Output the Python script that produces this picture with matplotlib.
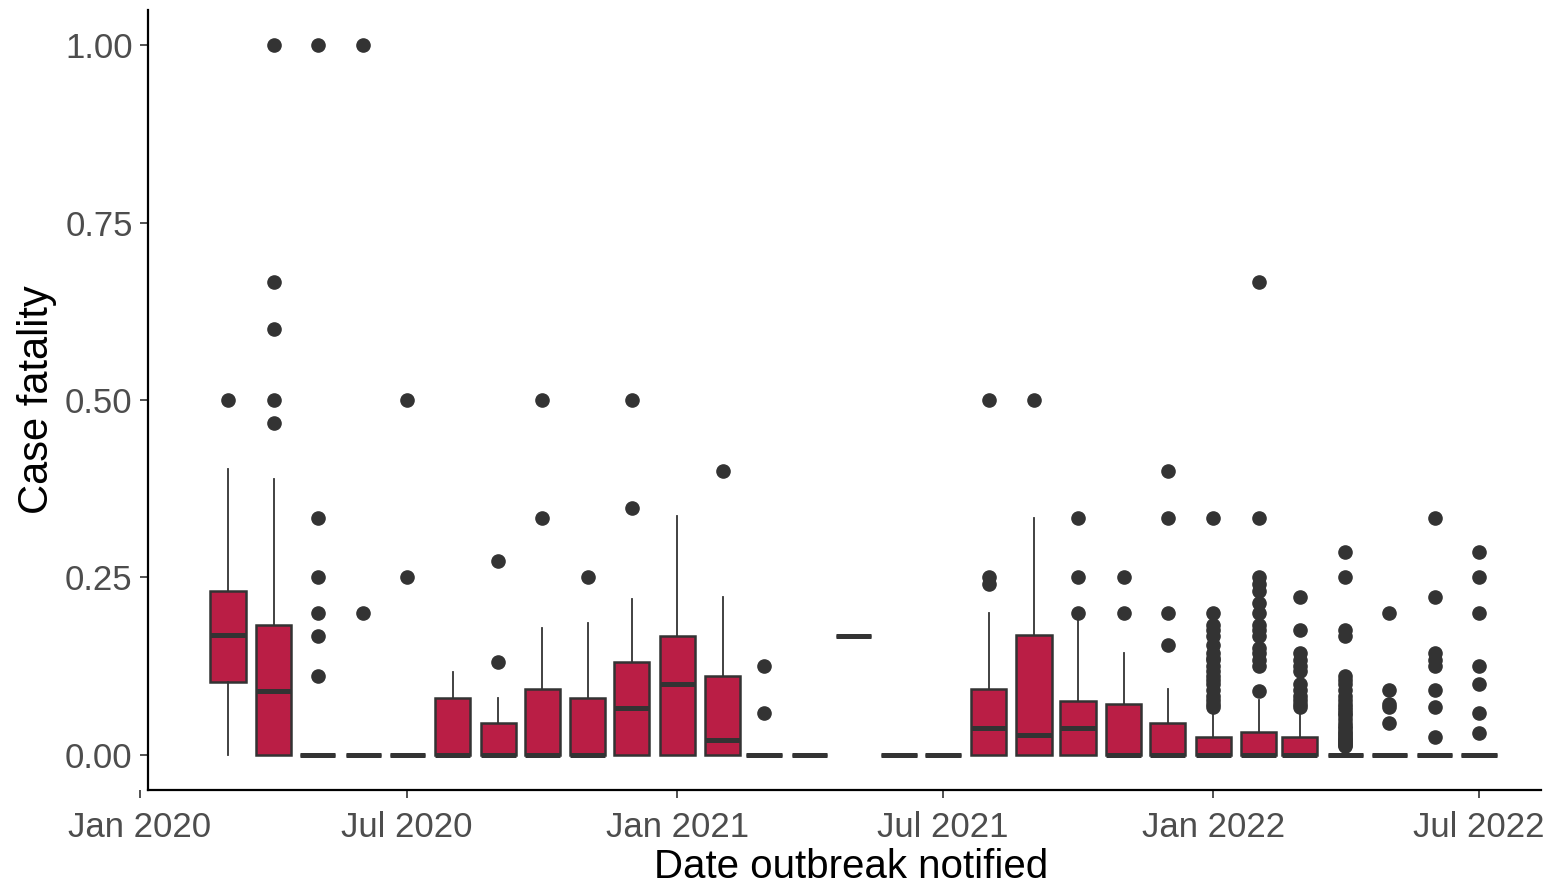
import matplotlib
matplotlib.use("Agg")
import matplotlib.pyplot as plt
import matplotlib.dates as mdates
import datetime as dt

plt.rcParams['font.family'] = ['Liberation Sans', 'DejaVu Sans']

# ---- data ----
months = ["2020-03", "2020-04", "2020-05", "2020-06", "2020-07", "2020-08",
          "2020-09", "2020-10", "2020-11", "2020-12", "2021-01", "2021-02",
          "2021-03", "2021-04", "2021-05", "2021-06", "2021-07", "2021-08",
          "2021-09", "2021-10", "2021-11", "2021-12", "2022-01", "2022-02",
          "2022-03", "2022-04", "2022-05", "2022-06", "2022-07"]

q1 = [0.103, 0, 0, 0, 0, 0, 0, 0, 0, 0, 0, 0, 0, 0, 0.167, 0, 0, 0,
      0, 0, 0, 0, 0, 0, 0, 0, 0, 0, 0]
med = [0.168, 0.089, 0, 0, 0, 0, 0, 0, 0, 0.066, 0.099, 0.02, 0, 0, 0.167, 0, 0,
       0.038, 0.027, 0.038, 0, 0, 0, 0, 0, 0, 0, 0, 0]
q3 = [0.23, 0.182, 0, 0, 0, 0.08, 0.045, 0.092, 0.08, 0.131, 0.167, 0.111, 0, 0,
      0.167, 0, 0, 0.092, 0.169, 0.075, 0.071, 0.045, 0.025, 0.032, 0.025,
      0, 0, 0, 0]
whislo = [0, 0, 0, 0, 0, 0, 0, 0, 0, 0, 0, 0, 0, 0, 0.167, 0, 0, 0,
          0, 0, 0, 0, 0, 0, 0, 0, 0, 0, 0]
whishi = [0.403, 0.388, 0, 0, 0, 0.116, 0.08, 0.179, 0.186, 0.219, 0.336, 0.222,
          0, 0, 0.167, 0, 0, 0.2, 0.333, 0.195, 0.143, 0.093, 0.059, 0.077, 0.06,
          0, 0, 0, 0]
outliers = [
    [0.5],
    [1.0, 0.667, 0.6, 0.5, 0.467],
    [1.0, 0.333, 0.25, 0.2, 0.167, 0.111],
    [1.0, 0.2],
    [0.5, 0.25],
    [],
    [0.273, 0.13],
    [0.5, 0.333],
    [0.25],
    [0.5, 0.348],
    [],
    [0.4],
    [0.125, 0.0588],
    [],
    [],
    [],
    [],
    [0.5, 0.25, 0.24],
    [0.5],
    [0.333, 0.25, 0.2],
    [0.25, 0.2],
    [0.4, 0.333, 0.2, 0.154],
    [0.333, 0.2, 0.182, 0.176, 0.167, 0.154, 0.143, 0.136, 0.133, 0.125, 0.118,
     0.111, 0.105, 0.1, 0.091, 0.083, 0.077, 0.071, 0.067],
    [0.667, 0.333, 0.25, 0.24, 0.231, 0.214, 0.2, 0.182, 0.176, 0.167, 0.15,
     0.143, 0.133, 0.125, 0.089],
    [0.222, 0.176, 0.143, 0.133, 0.125, 0.118, 0.1, 0.091, 0.083, 0.077, 0.071,
     0.067],
    [0.286, 0.25, 0.176, 0.167, 0.111, 0.105, 0.1, 0.091, 0.083, 0.077, 0.071,
     0.067, 0.0625, 0.0588, 0.0556, 0.05, 0.045, 0.04, 0.037, 0.033, 0.03, 0.027,
     0.025, 0.022, 0.02, 0.018, 0.016, 0.014, 0.012],
    [0.2, 0.091, 0.071, 0.067, 0.045],
    [0.333, 0.222, 0.143, 0.133, 0.125, 0.091, 0.067, 0.025],
    [0.286, 0.25, 0.2, 0.125, 0.1, 0.0588, 0.03],
]

y_ticks = [0.00, 0.25, 0.50, 0.75, 1.00]
y_ticklabels = ["0.00", "0.25", "0.50", "0.75", "1.00"]
x_tick_dates = ["2020-01-01", "2020-07-01", "2021-01-01", "2021-07-01",
                "2022-01-01", "2022-07-01"]

# ---- plot ----
fill = "#BA1E45"
dark = "#333333"

fig = plt.figure(figsize=(15.45, 8.93), dpi=100)
ax = fig.add_axes([138 / 1545, 103 / 893, 1403 / 1545, 780 / 893])

positions = [mdates.date2num(dt.datetime.strptime(m + "-01", "%Y-%m-%d")) for m in months]
stats = []
for i in range(len(months)):
    stats.append(dict(med=med[i], q1=q1[i], q3=q3[i], whislo=whislo[i],
                      whishi=whishi[i], fliers=outliers[i]))

ax.bxp(stats, positions=positions, widths=24, patch_artist=True,
       showcaps=False, manage_ticks=False,
       boxprops=dict(facecolor=fill, edgecolor=dark, linewidth=1.8),
       medianprops=dict(color=dark, linewidth=3.6, solid_capstyle='butt'),
       whiskerprops=dict(color=dark, linewidth=1.3),
       flierprops=dict(marker='o', markerfacecolor=dark, markeredgecolor=dark,
                       markersize=9.5, linestyle='none'))

x0 = mdates.date2num(dt.datetime(2020, 1, 1))
ax.set_xlim(x0 - 1.36, x0 + 954.3)
ax.set_ylim(-0.05, 1.05)

ax.spines['top'].set_visible(False)
ax.spines['right'].set_visible(False)
ax.spines['left'].set_position(('data', x0 + 5.45))
ax.spines['bottom'].set_bounds(x0 + 5.45, x0 + 954.3)
for s in ('left', 'bottom'):
    ax.spines[s].set_linewidth(1.6)
    ax.spines[s].set_color('black')

ax.set_yticks(y_ticks)
ax.set_yticklabels(y_ticklabels)
ax.set_xticks([mdates.date2num(dt.datetime.strptime(d, "%Y-%m-%d")) for d in x_tick_dates])
ax.xaxis.set_major_formatter(mdates.DateFormatter("%b %Y"))

ax.tick_params(axis='both', direction='out', length=6, width=1.2, color=dark,
               labelsize=25, labelcolor="#4D4D4D")
ax.tick_params(axis='x', pad=9)
ax.tick_params(axis='y', pad=5)

ax.set_xlabel("Date outbreak notified", fontsize=29, color='black')
ax.xaxis.set_label_coords(0.508, -0.075)
ax.set_ylabel("Case fatality", fontsize=30, color='black', labelpad=6)

fig.savefig("out.png", dpi=100)
